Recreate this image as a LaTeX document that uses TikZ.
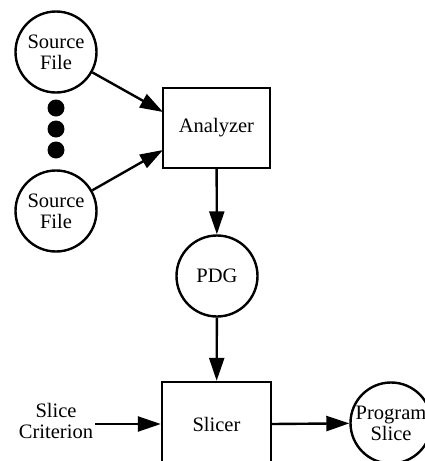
\documentclass[tikz,border=0pt]{standalone}
\usepackage{fontspec}
\setmainfont{Liberation Serif}
\usetikzlibrary{arrows.meta}
\begin{document}
\begin{tikzpicture}[x=1pt,y=-1pt,
  every node/.style={font=\fontsize{20.5}{21}\selectfont, align=center, inner sep=0pt},
  blob/.style={draw, circle, line width=2.4pt, minimum size=81pt},
  proc/.style={draw, rectangle, line width=2.4pt},
  dot/.style={fill, circle, minimum size=17pt},
  arr/.style={line width=2.4pt, -{Triangle[length=23pt,width=15pt]}}]
\useasboundingbox (0,0) rectangle (425,461);
\clip (0,0) rectangle (425,461);
\node[blob] (src1) at (56,52) {Source\\File};
\node[blob] (src2) at (56,211) {Source\\File};
\node[dot] (d1) at (56,108) {};
\node[dot] (d2) at (56,129) {};
\node[dot] (d3) at (56,150) {};
\node[proc, minimum width=107pt, minimum height=80pt] (ana) at (216.5,128) {Analyzer};
\coordinate (a1) at (163,112);
\coordinate (a2) at (163,150);
\node[blob] (pdg) at (217,276) {PDG};
\node[proc, minimum width=109pt, minimum height=84pt] (sli) at (216.5,424) {Slicer};
\node (crit) at (56,421) {Slice\\Criterion};
\coordinate (c0) at (95,424);
\node[blob] (ps) at (391,423) {Program\\Slice};
\draw[arr] (src1) -- (a1);
\draw[arr] (src2) -- (a2);
\draw[arr] (ana) -- (pdg);
\draw[arr] (pdg) -- (sli);
\draw[arr] (c0) -- (c0 -| sli.west);
\draw[arr] (sli.east) -- (ps);
\end{tikzpicture}
\end{document}
